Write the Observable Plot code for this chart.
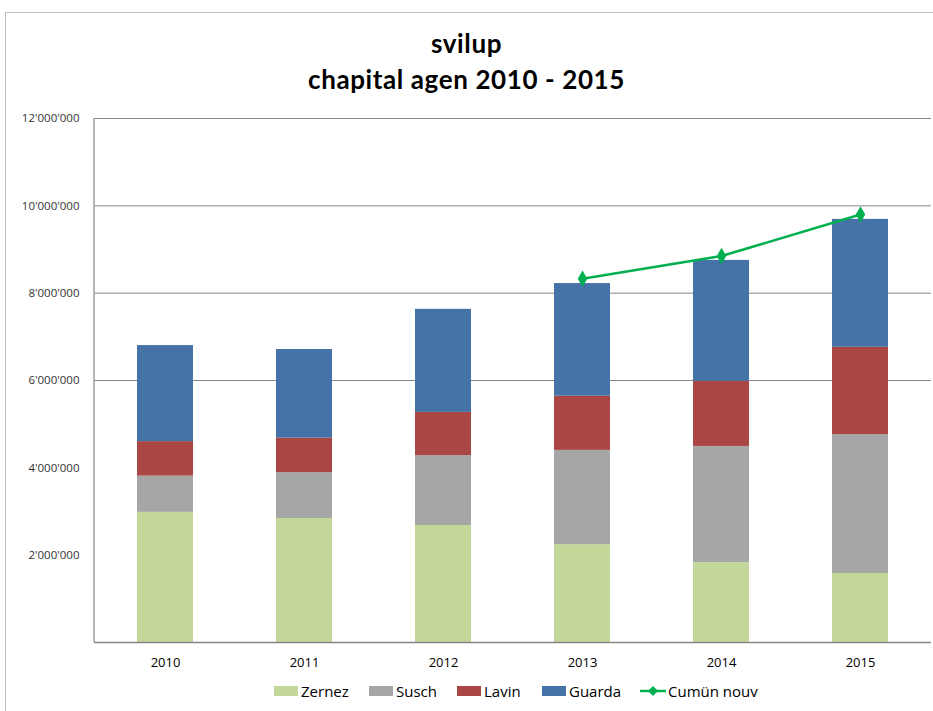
<!DOCTYPE html>
<html>
<head>
<meta charset="utf-8">
<script src="https://cdn.jsdelivr.net/npm/d3@7"></script>
<script src="https://cdn.jsdelivr.net/npm/@observablehq/plot@0.6"></script>
<style>
  html, body { margin: 0; padding: 0; background: #fff; overflow: hidden; width: 933px; height: 711px; }
  #frame { position: absolute; left: 5px; top: 12px; width: 960px; height: 740px; border: 1px solid #bdbdbd; box-sizing: border-box; }
  .title { position: absolute; left: 0; width: 933px; text-align: center; font-family: Lato, "Open Sans", sans-serif; font-weight: bold; font-size: 26px; letter-spacing: 0.6px; color: #000; }
  #chart { position: absolute; left: 0; top: 100px; }
  .leg { position: absolute; top: 681px; height: 20px; font-family: "Open Sans", Lato, sans-serif; font-size: 15px; color: #000; display: flex; align-items: center; white-space: nowrap; }
  .sw { width: 24px; height: 10px; margin-right: 3px; }
</style>
</head>
<body>
<div id="frame"></div>
<div class="title" style="top:27px">svilup</div>
<div class="title" style="top:63px">chapital agen 2010 - 2015</div>
<div id="chart"></div>
<div id="legend"></div>
<script>
const years = ["2010", "2011", "2012", "2013", "2014", "2015"];
const series = ["Zernez", "Susch", "Lavin", "Guarda"];
const zernez = [2980000, 2840000, 2680000, 2240000, 1830000, 1580000];
const susch  = [830000, 1050000, 1600000, 2160000, 2660000, 3180000];
const lavin  = [790000, 790000, 990000, 1240000, 1490000, 2000000];
const guarda = [2200000, 2030000, 2360000, 2580000, 2770000, 2930000];
const lineName = "Cumün nouv";
const lineYears = ["2013", "2014", "2015"];
const lineValues = [8330000, 8850000, 9800000];
const colors = ["#c4d79b", "#a6a6a6", "#aa4643", "#4572a7"];
const lineColor = "#00b050";
const yTicks = [2000000, 4000000, 6000000, 8000000, 10000000, 12000000];
const gridTicks = [6000000, 8000000, 10000000, 12000000];

const valuesBySeries = [zernez, susch, lavin, guarda];
const bars = [];
series.forEach((s, i) => years.forEach((y, j) => bars.push({year: y, series: s, value: valuesBySeries[i][j]})));
const line = lineYears.map((y, i) => ({year: y, value: lineValues[i]}));

const fmt = v => d3.format(",")(v).replace(/,/g, "'");

// left axis line drawn along the plot's left edge
const leftAxisLine = (index, scales, values, dimensions) => {
  const g = d3.create("svg:line")
    .attr("x1", dimensions.marginLeft).attr("x2", dimensions.marginLeft)
    .attr("y1", scales.y(12000000)).attr("y2", scales.y(0))
    .attr("stroke", "#a0a0a0").attr("stroke-width", 1.5);
  return g.node();
};

const plot = Plot.plot({
  width: 933,
  height: 580,
  marginTop: 18,
  marginBottom: 38,
  marginLeft: 94,
  marginRight: 2,
  style: {fontFamily: "'Open Sans', Lato, sans-serif", background: "transparent"},
  x: {domain: years, paddingInner: 0.6, paddingOuter: 0.3, label: null},
  y: {domain: [0, 12000000], label: null},
  color: {domain: series, range: colors},
  marks: [
    Plot.ruleY(gridTicks, {stroke: "#868686", strokeWidth: 1}),
    Plot.barY(bars, {x: "year", y: "value", fill: "series", order: series}),
    Plot.ruleY([0], {stroke: "#868686", strokeWidth: 1.5}),
    leftAxisLine,
    Plot.line(line, {x: "year", y: "value", stroke: lineColor, strokeWidth: 2.5}),
    Plot.dot(line, {x: "year", y: "value", symbol: "diamond", fill: lineColor, r: 5}),
    Plot.axisY(yTicks, {tickFormat: fmt, tickSize: 0, tickPadding: 15, fontSize: 11.5, fill: "#333"}),
    Plot.axisX({tickSize: 0, tickPadding: 15, fontSize: 13, fill: "#000"})
  ]
});
document.getElementById("chart").appendChild(plot);

const legend = document.getElementById("legend");
const legLefts = [274, 369, 457, 542];
series.forEach((s, i) => {
  const d = document.createElement("div");
  d.className = "leg";
  d.style.left = legLefts[i] + "px";
  d.innerHTML = `<span class="sw" style="background:${colors[i]}"></span>${s}`;
  legend.appendChild(d);
});
const ld = document.createElement("div");
ld.className = "leg";
ld.style.left = "640px";
ld.innerHTML = `<svg width="27" height="12" style="margin-right:1px"><line x1="0" y1="6" x2="26" y2="6" stroke="${lineColor}" stroke-width="2.5"/><path d="M13 1 L18 6 L13 11 L8 6 Z" fill="${lineColor}"/></svg>${lineName}`;
legend.appendChild(ld);
</script>
</body>
</html>
